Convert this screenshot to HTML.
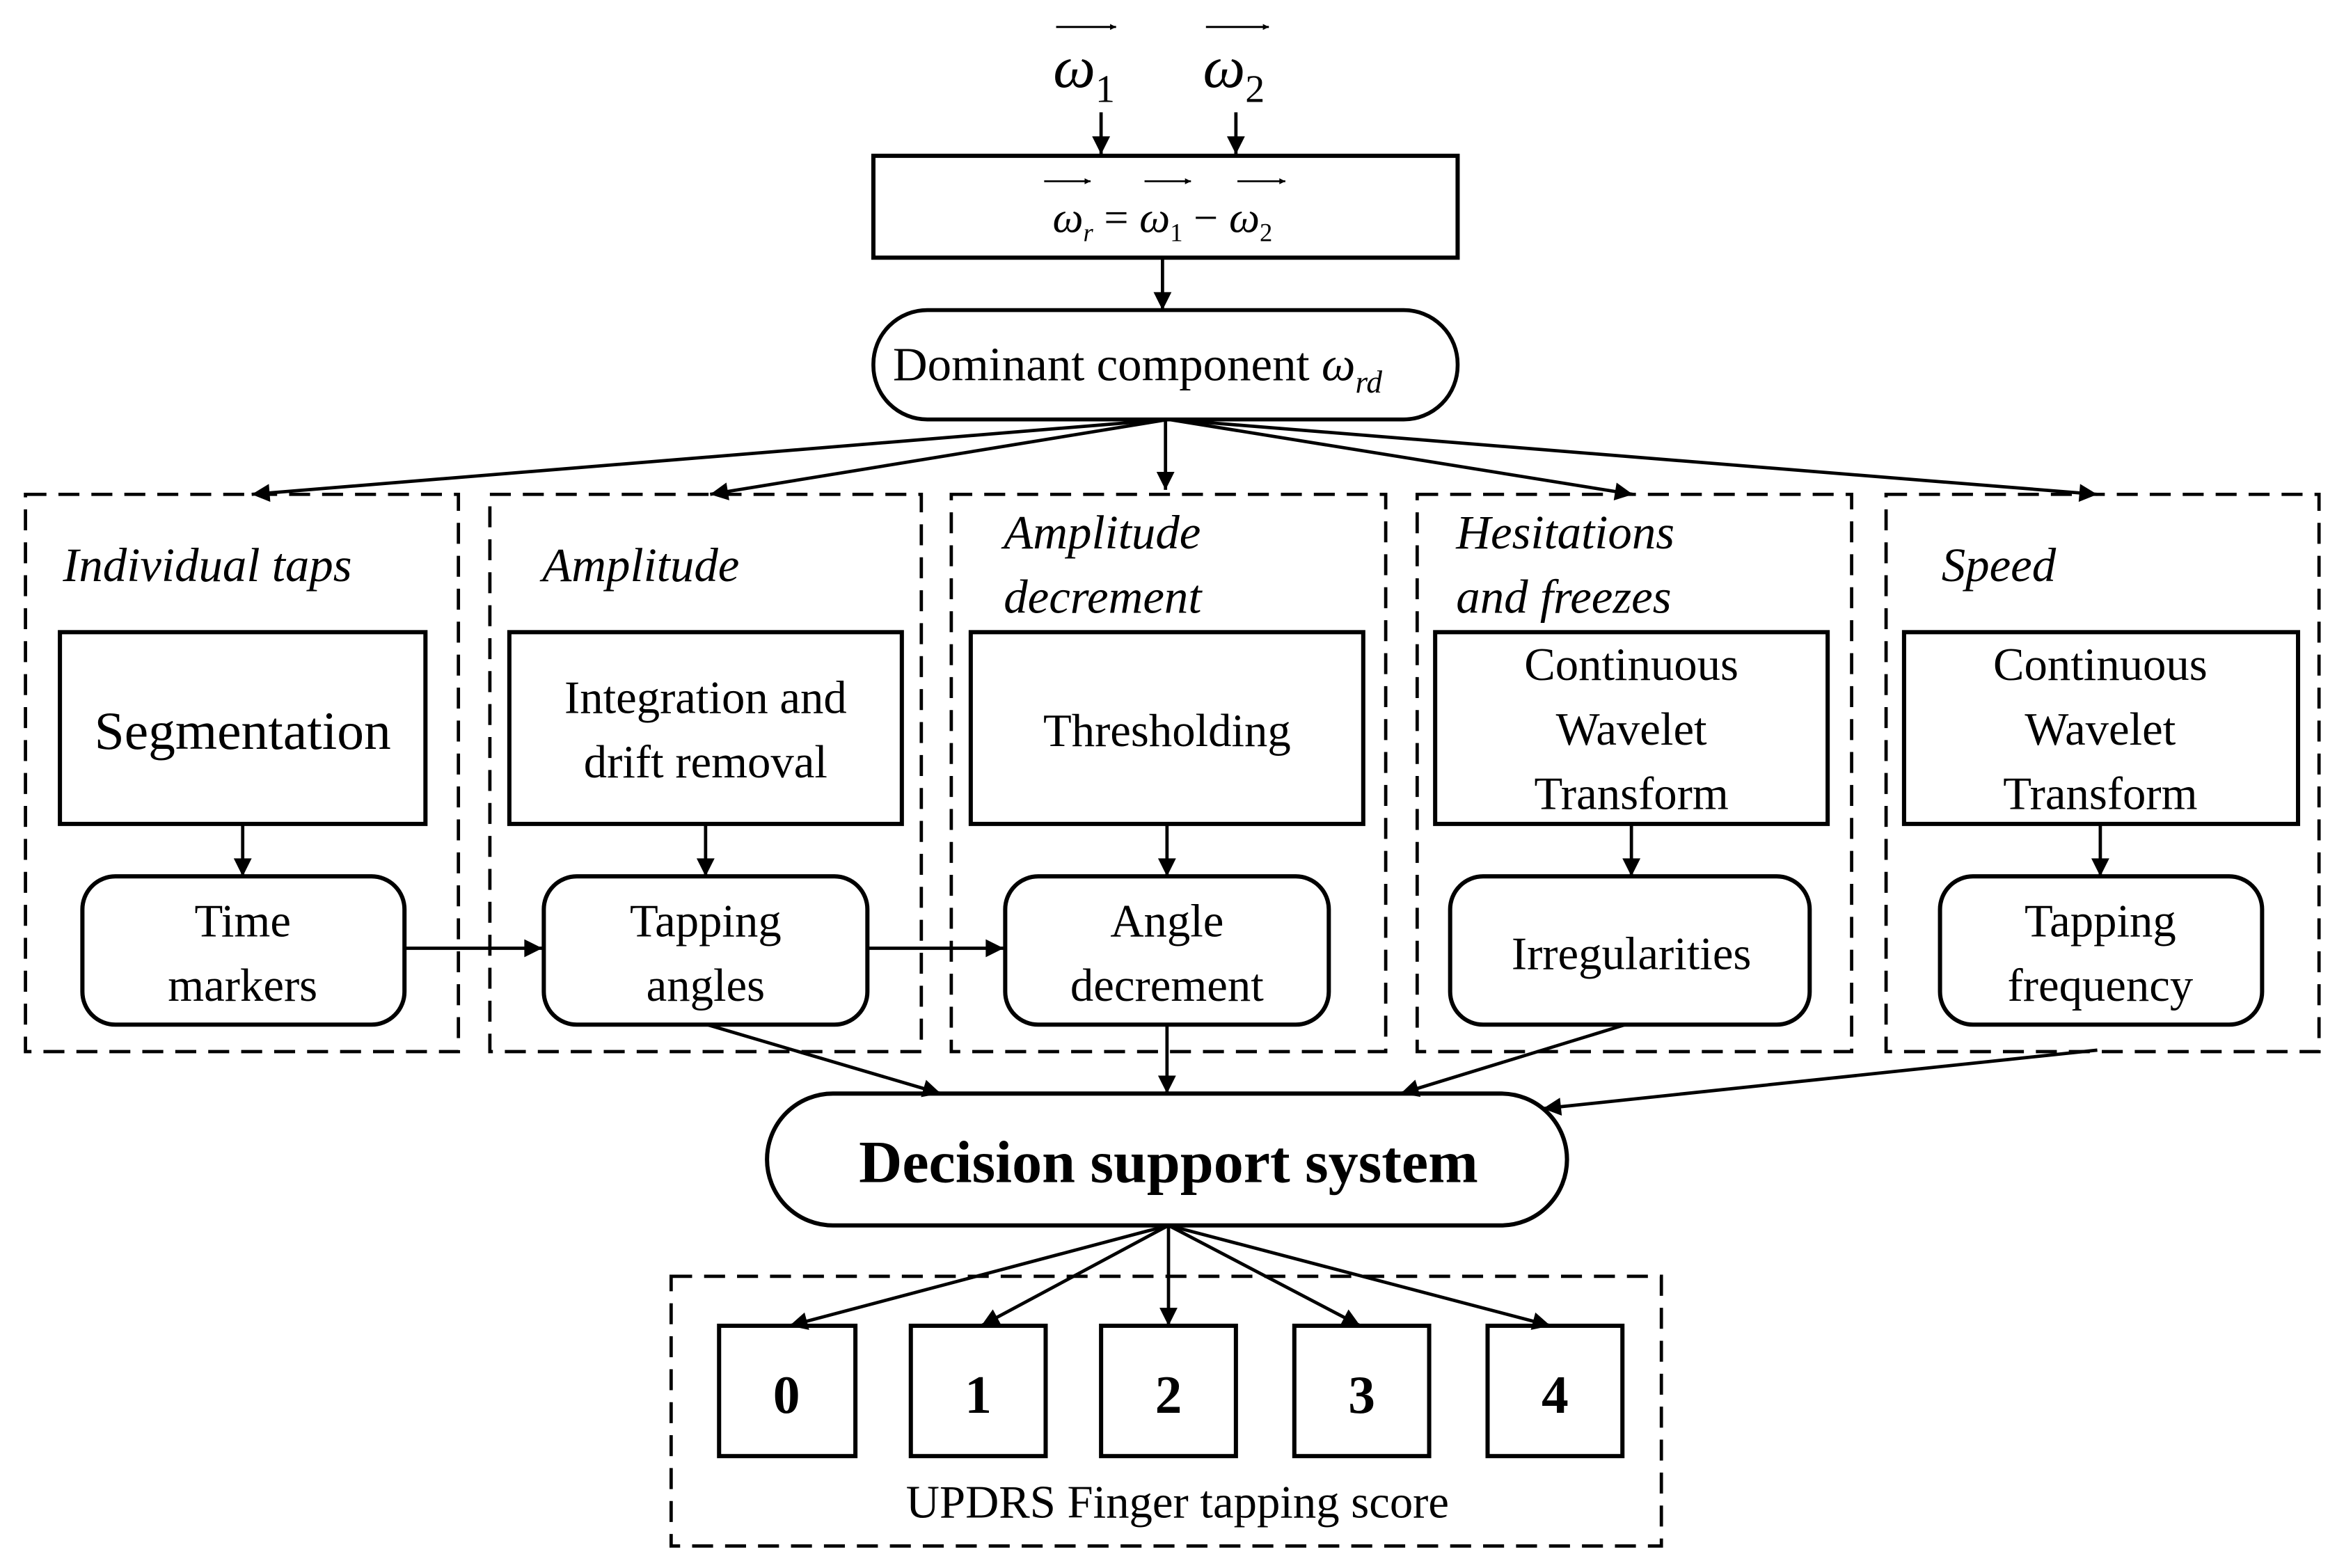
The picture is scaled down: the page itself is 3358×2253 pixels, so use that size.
<!DOCTYPE html>
<html><head><meta charset="utf-8">
<style>
html,body{margin:0;padding:0;background:#fff;}
svg{display:block;}
text{font-family:"Liberation Serif",serif;fill:#000;}
</style></head>
<body>
<svg width="3358" height="2253" viewBox="0 0 1560 1046.7" preserveAspectRatio="none" xmlns="http://www.w3.org/2000/svg">
<defs>
<marker id="a" viewBox="0 0 10 10" refX="10" refY="5" markerWidth="18" markerHeight="12" markerUnits="userSpaceOnUse" orient="auto-start-reverse">
<path d="M0,0 L10,5 L0,10 z" fill="#000"/></marker>
<marker id="b" viewBox="0 0 10 10" refX="10" refY="5" markerWidth="5" markerHeight="4" markerUnits="userSpaceOnUse" orient="auto">
<path d="M0,0 L10,5 L0,10 z" fill="#000"/></marker>
</defs>
<g stroke="#000" fill="none" stroke-width="2.2">
<line x1="705" y1="18" x2="745" y2="18" stroke-width="1.4" marker-end="url(#b)"/>
<line x1="805" y1="18" x2="847" y2="18" stroke-width="1.4" marker-end="url(#b)"/>
<line x1="735" y1="75" x2="735" y2="103" marker-end="url(#a)"/>
<line x1="825" y1="75" x2="825" y2="103" marker-end="url(#a)"/>
<rect x="583" y="104" width="390" height="68" stroke-width="2.8"/>
<line x1="697" y1="121" x2="728" y2="121" stroke-width="1.2" marker-end="url(#b)"/>
<line x1="764" y1="121" x2="795" y2="121" stroke-width="1.2" marker-end="url(#b)"/>
<line x1="826" y1="121" x2="858" y2="121" stroke-width="1.2" marker-end="url(#b)"/>
<line x1="776" y1="172" x2="776" y2="207" marker-end="url(#a)"/>
<rect x="583" y="207" width="390" height="73" rx="36" stroke-width="2.6"/>
<line x1="780" y1="280" x2="168" y2="330" marker-end="url(#a)"/>
<line x1="780" y1="280" x2="474" y2="330" marker-end="url(#a)"/>
<line x1="778" y1="280" x2="778" y2="327" marker-end="url(#a)"/>
<line x1="780" y1="280" x2="1090" y2="330" marker-end="url(#a)"/>
<line x1="780" y1="280" x2="1400" y2="330" marker-end="url(#a)"/>
<g stroke-dasharray="14,8" stroke-width="2.2">
<rect x="17" y="330" width="289" height="372"/>
<rect x="327" y="330" width="288" height="372"/>
<rect x="635" y="330" width="290" height="372"/>
<rect x="946" y="330" width="290" height="372"/>
<rect x="1259" y="330" width="289" height="372"/>
<rect x="448" y="852" width="661" height="180"/>
</g>
<g stroke-width="2.8">
<rect x="40" y="422" width="244" height="128"/>
<rect x="340" y="422" width="262" height="128"/>
<rect x="648" y="422" width="262" height="128"/>
<rect x="958" y="422" width="262" height="128"/>
<rect x="1271" y="422" width="263" height="128"/>
<rect x="55" y="585" width="215" height="99" rx="22"/>
<rect x="363" y="585" width="216" height="99" rx="22"/>
<rect x="671" y="585" width="216" height="99" rx="22"/>
<rect x="968" y="585" width="240" height="99" rx="22"/>
<rect x="1295" y="585" width="215" height="99" rx="22"/>
</g>
<line x1="162" y1="550" x2="162" y2="585" marker-end="url(#a)"/>
<line x1="471" y1="550" x2="471" y2="585" marker-end="url(#a)"/>
<line x1="779" y1="550" x2="779" y2="585" marker-end="url(#a)"/>
<line x1="1089" y1="550" x2="1089" y2="585" marker-end="url(#a)"/>
<line x1="1402" y1="550" x2="1402" y2="585" marker-end="url(#a)"/>
<line x1="270" y1="633" x2="362" y2="633" marker-end="url(#a)"/>
<line x1="579" y1="633" x2="670" y2="633" marker-end="url(#a)"/>
<line x1="472" y1="684" x2="628" y2="730" marker-end="url(#a)"/>
<line x1="779" y1="684" x2="779" y2="730" marker-end="url(#a)"/>
<line x1="1085" y1="684" x2="935" y2="730" marker-end="url(#a)"/>
<line x1="1400" y1="701" x2="1030" y2="740" marker-end="url(#a)"/>
<rect x="512" y="730" width="534" height="88" rx="44" stroke-width="2.8"/>
<line x1="780" y1="818" x2="527" y2="885" marker-end="url(#a)"/>
<line x1="780" y1="818" x2="655" y2="885" marker-end="url(#a)"/>
<line x1="780" y1="818" x2="780" y2="885" marker-end="url(#a)"/>
<line x1="780" y1="818" x2="908" y2="885" marker-end="url(#a)"/>
<line x1="780" y1="818" x2="1035" y2="885" marker-end="url(#a)"/>
<g stroke-width="2.8">
<rect x="480" y="885" width="91" height="87"/>
<rect x="608" y="885" width="90" height="87"/>
<rect x="735" y="885" width="90" height="87"/>
<rect x="864" y="885" width="90" height="87"/>
<rect x="993" y="885" width="90" height="87"/>
</g>
</g>
<g font-style="italic" font-size="40">
<text x="703" y="58">ω<tspan font-style="normal" font-size="26" dy="10">1</tspan></text>
<text x="803" y="58">ω<tspan font-style="normal" font-size="26" dy="10">2</tspan></text>
</g>
<text x="776" y="155" font-size="29" text-anchor="middle"><tspan font-style="italic">ω</tspan><tspan font-style="italic" font-size="17" dy="6">r</tspan><tspan dy="-6"> = </tspan><tspan font-style="italic">ω</tspan><tspan font-size="17" dy="6">1</tspan><tspan dy="-6"> − </tspan><tspan font-style="italic">ω</tspan><tspan font-size="17" dy="6">2</tspan></text>
<text x="596" y="254" font-size="32">Dominant component <tspan font-style="italic">ω</tspan><tspan font-style="italic" font-size="21" dy="8">rd</tspan></text>
<g font-style="italic" font-size="32">
<text x="42" y="388">Individual taps</text>
<text x="362" y="388">Amplitude</text>
<text x="670" y="366">Amplitude</text>
<text x="670" y="409">decrement</text>
<text x="972" y="366">Hesitations</text>
<text x="972" y="409">and freezes</text>
<text x="1296" y="388">Speed</text>
</g>
<g font-size="31" text-anchor="middle">
<text x="162" y="500" font-size="36">Segmentation</text>
<text x="471" y="476">Integration and</text>
<text x="471" y="519">drift removal</text>
<text x="779" y="498">Thresholding</text>
<text x="1089" y="454">Continuous</text>
<text x="1089" y="497">Wavelet</text>
<text x="1089" y="540">Transform</text>
<text x="1402" y="454">Continuous</text>
<text x="1402" y="497">Wavelet</text>
<text x="1402" y="540">Transform</text>
<text x="162" y="625">Time</text>
<text x="162" y="668">markers</text>
<text x="471" y="625">Tapping</text>
<text x="471" y="668">angles</text>
<text x="779" y="625">Angle</text>
<text x="779" y="668">decrement</text>
<text x="1089" y="647">Irregularities</text>
<text x="1402" y="625">Tapping</text>
<text x="1402" y="668">frequency</text>
<text x="780" y="789" font-size="40" font-weight="bold">Decision support system</text>
<g font-size="36" font-weight="bold">
<text x="525" y="943">0</text>
<text x="653" y="943">1</text>
<text x="780" y="943">2</text>
<text x="909" y="943">3</text>
<text x="1038" y="943">4</text>
</g>
<text x="786" y="1013">UPDRS Finger tapping score</text>
</g>
</svg>
</body></html>
